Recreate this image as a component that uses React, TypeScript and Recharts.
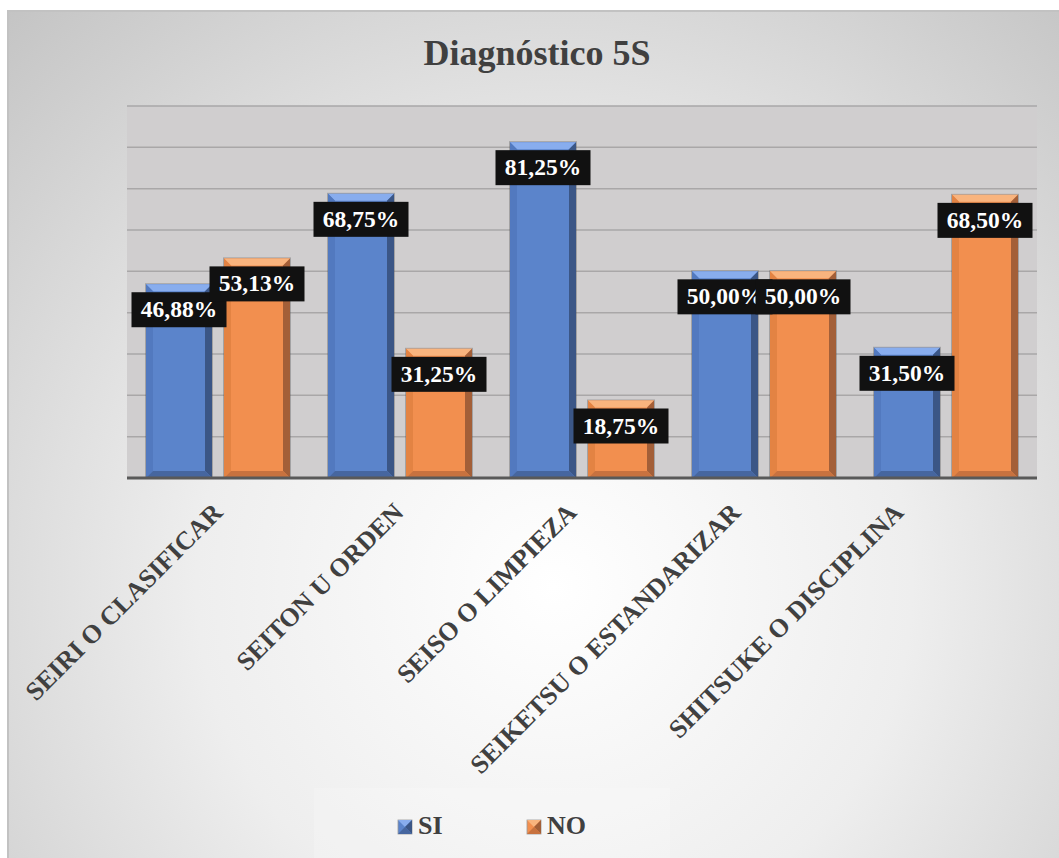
import React from 'react';
import { BarChart, Bar, XAxis, YAxis, CartesianGrid, LabelList } from 'recharts';

const categories = [
  'SEIRI O CLASIFICAR',
  'SEITON U ORDEN',
  'SEISO O LIMPIEZA',
  'SEIKETSU O ESTANDARIZAR',
  'SHITSUKE O DISCIPLINA',
];
const siValues = [46.88, 68.75, 81.25, 50.0, 31.5];
const noValues = [53.13, 31.25, 18.75, 50.0, 68.5];
const yTicks = [0, 10, 20, 30, 40, 50, 60, 70, 80, 90];

const data = categories.map((name, i) => ({ name, SI: siValues[i], NO: noValues[i] }));

// the rotated labels in the original sit a little off their tick
const tickNudge = [6, 5, -4, -22, -41];

const FONT = '"Liberation Serif", "Times New Roman", serif';
const TEXT = '#404040';

const palette = {
  SI: { face: '#5B84CB', top: '#88ADEE', left: '#5279BF', right: '#3B5686', bottom: '#46669F' },
  NO: { face: '#F28F4F', top: '#F9B47E', left: '#E38343', right: '#A35F38', bottom: '#C8723F' },
};

type Colors = typeof palette.SI;

function BevelBar({ x, y, width: w, height: h, colors }: any) {
  if (!w || !h) return null;
  const c: Colors = colors;
  const b = Math.min(7, w / 4, h / 2);
  return (
    <g>
      <rect x={x - 1} y={y - 1} width={w + 2} height={h + 1} fill="rgba(80,80,80,0.35)" />
      <rect x={x} y={y} width={w} height={h} fill={c.face} />
      <polygon points={`${x},${y} ${x + w},${y} ${x + w - b},${y + b} ${x + b},${y + b}`} fill={c.top} />
      <polygon points={`${x},${y} ${x + b},${y + b} ${x + b},${y + h - b} ${x},${y + h}`} fill={c.left} />
      <polygon points={`${x + w},${y} ${x + w},${y + h} ${x + w - b},${y + h - b} ${x + w - b},${y + b}`} fill={c.right} />
      <polygon points={`${x},${y + h} ${x + b},${y + h - b} ${x + w - b},${y + h - b} ${x + w},${y + h}`} fill={c.bottom} />
    </g>
  );
}

// black tag with white percentage, just under the top of the bar
function ValueTag(props: any) {
  const { x, y, width, value } = props;
  if (value == null) return null;
  const cx = x + width / 2;
  const text = value.toFixed(2).replace('.', ',') + '%';
  const boxW = 95;
  const top = y + 8;
  return (
    <g>
      <rect x={cx - boxW / 2} y={top} width={boxW} height={35} fill="#111111" />
      <text
        x={cx}
        y={top + 25}
        textAnchor="middle"
        fill="#ffffff"
        fontFamily={FONT}
        fontWeight="bold"
        fontSize={23.5}
      >
        {text}
      </text>
    </g>
  );
}

function CategoryTick(props: any) {
  const { x, y, payload, index } = props;
  const nudge = tickNudge[index] || 0;
  return (
    <text
      transform={`translate(${x + nudge},${y + 36}) rotate(-45)`}
      textAnchor="end"
      fill={TEXT}
      fontFamily={FONT}
      fontWeight="bold"
      fontSize={26}
    >
      {payload.value}
    </text>
  );
}

function LegendMarker({ x, y, colors }: { x: number; y: number; colors: Colors }) {
  const s = 14;
  const m = s / 2;
  return (
    <g>
      <rect x={x} y={y} width={s} height={s} fill={colors.face} stroke="#9a9a9a" strokeWidth={0.8} />
      <polygon points={`${x},${y} ${x + s},${y} ${x + m},${y + m}`} fill={colors.top} />
      <polygon points={`${x + s},${y} ${x + s},${y + s} ${x + m},${y + m}`} fill={colors.right} />
      <polygon points={`${x},${y + s} ${x + s},${y + s} ${x + m},${y + m}`} fill={colors.bottom} />
    </g>
  );
}

export default function App() {
  return (
    <div
      style={{
        position: 'absolute',
        left: 7,
        top: 10,
        width: 1052,
        height: 848,
        overflow: 'hidden',
        background:
          'radial-gradient(circle farthest-corner at 52% 68%, #ffffff 0%, #eeeeee 45%, #c4c4c4 100%)',
        boxShadow: 'inset 2px 2px 0 #c2c2c2',
        fontFamily: FONT,
      }}
    >
      <div
        style={{
          position: 'absolute',
          top: 25,
          left: 4,
          width: 1052,
          textAlign: 'center',
          fontSize: 36,
          lineHeight: '36px',
          fontWeight: 'bold',
          color: TEXT,
        }}
      >
        Diagnóstico 5S
      </div>

      <div style={{ position: 'absolute', left: 0, top: 0 }}>
        <BarChart
          width={1052}
          height={848}
          data={data}
          margin={{ top: 96, right: 22, bottom: 320, left: 120 }}
          barGap={12}
          barSize={66}
        >
          <CartesianGrid vertical={false} fill="#D0CECF" stroke="#A9A7A8" strokeWidth={1.5} />
          <YAxis hide domain={[0, 90]} ticks={yTicks} />
          <XAxis
            dataKey="name"
            height={60}
            interval={0}
            tickLine={false}
            tickSize={0}
            tickMargin={0}
            axisLine={{ stroke: '#595959', strokeWidth: 3 }}
            tick={<CategoryTick />}
          />
          <Bar
            dataKey="SI"
            isAnimationActive={false}
            shape={(p: any) => <BevelBar {...p} colors={palette.SI} />}
          >
            <LabelList dataKey="SI" content={<ValueTag />} />
          </Bar>
          <Bar
            dataKey="NO"
            isAnimationActive={false}
            shape={(p: any) => <BevelBar {...p} colors={palette.NO} />}
          >
            <LabelList dataKey="NO" content={<ValueTag />} />
          </Bar>
        </BarChart>
      </div>

      {/* legend sits in its own slightly lighter box under the labels */}
      <div
        style={{
          position: 'absolute',
          left: 307,
          top: 778,
          width: 356,
          height: 70,
          background: 'rgba(255,255,255,0.18)',
        }}
      >
        <svg width={356} height={70}>
          <LegendMarker x={84} y={32} colors={palette.SI} />
          <text x={104} y={46} fill={TEXT} fontFamily={FONT} fontWeight="bold" fontSize={26}>
            SI
          </text>
          <LegendMarker x={213} y={32} colors={palette.NO} />
          <text x={233} y={46} fill={TEXT} fontFamily={FONT} fontWeight="bold" fontSize={26}>
            NO
          </text>
        </svg>
      </div>
    </div>
  );
}
